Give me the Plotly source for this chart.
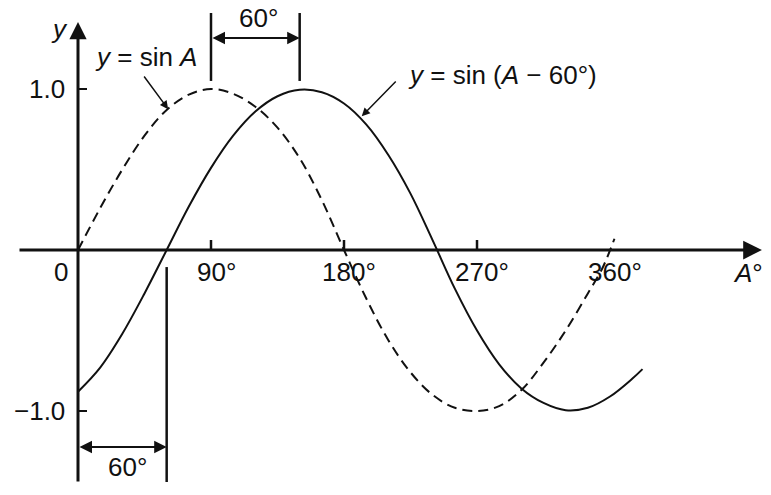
import plotly.graph_objects as go

# ---------------- data ----------------
angle_solid = [0, 15, 30, 45, 60, 75, 90, 105, 120, 135, 150, 165, 180, 195, 210,
               225, 240, 255, 270, 285, 300, 315, 330, 345, 360, 375, 382]
y_shifted = [-0.88, -0.73, -0.52, -0.27, 0.0, 0.27, 0.51, 0.71, 0.86, 0.955, 0.995, 0.98,
             0.91, 0.78, 0.59, 0.35, 0.06, -0.24, -0.50, -0.71, -0.86, -0.95, -0.995,
             -0.98, -0.91, -0.80, -0.74]

angle_dashed = [0, 15, 30, 45, 60, 75, 90, 105, 120, 135, 150, 165, 180, 195, 210,
                225, 240, 255, 270, 285, 300, 315, 330, 345, 355, 363]
y_sin = [0.0, 0.26, 0.50, 0.71, 0.87, 0.965, 1.0, 0.97, 0.89, 0.76, 0.57, 0.31, 0.0,
         -0.30, -0.56, -0.76, -0.90, -0.98, -1.0, -0.97, -0.87, -0.70, -0.50, -0.27,
         -0.11, 0.07]

x_tick_vals = [90, 180, 270, 360]
x_tick_text = ["90°", "180°", "270°", "360°"]
x_tick_marks = [90, 180, 270]
y_tick_vals = [1.0, -1.0]
y_tick_text = ["1.0", "−1.0"]

phase_shift = 60          # degrees
peak_sin = 90
peak_shifted = 150

# ---------------- layout constants ----------------
X_RANGE = [-52.78, 468.94]
Y_RANGE = [-1.5217, 1.5528]
X_AXIS_EXT = [-40.6, 462.8]
Y_AXIS_EXT = [-1.447, 1.416]
FONT = "Liberation Sans, Arial, Helvetica, sans-serif"
FS = 26
INK = "#111111"

fig = go.Figure()

fig.add_trace(go.Scatter(x=angle_dashed, y=y_sin, mode="lines",
                         line=dict(color=INK, width=2, dash="10px,6px", shape="spline"),
                         hoverinfo="skip", showlegend=False))
fig.add_trace(go.Scatter(x=angle_solid, y=y_shifted, mode="lines",
                         line=dict(color=INK, width=2, shape="spline"),
                         hoverinfo="skip", showlegend=False))

ann = []
shapes = []

# axes with arrowheads
ann.append(dict(x=X_AXIS_EXT[1], y=0, ax=X_AXIS_EXT[0], ay=0, axref="x", ayref="y",
                xref="x", yref="y", text="", showarrow=True, arrowhead=2,
                arrowsize=1.25, arrowwidth=3, arrowcolor=INK, standoff=0))
ann.append(dict(x=0, y=Y_AXIS_EXT[1], ax=0, ay=Y_AXIS_EXT[0], axref="x", ayref="y",
                xref="x", yref="y", text="", showarrow=True, arrowhead=2,
                arrowsize=1.15, arrowwidth=3, arrowcolor=INK, standoff=0))

# x tick marks and labels
for v in x_tick_marks:
    shapes.append(dict(type="line", x0=v, x1=v, y0=0, y1=0.062, xref="x", yref="y",
                       line=dict(color=INK, width=2.5)))
for v, t in zip(x_tick_vals, x_tick_text):
    ann.append(dict(x=v, y=-0.137, text=t, showarrow=False, xref="x", yref="y",
                    xanchor="center", yanchor="middle", xshift=5,
                    font=dict(family=FONT, size=FS, color=INK)))
ann.append(dict(x=-11.5, y=-0.137, text="0", showarrow=False, xref="x", yref="y",
                xanchor="center", yanchor="middle",
                font=dict(family=FONT, size=FS, color=INK)))

# y tick marks and labels
for v, t in zip(y_tick_vals, y_tick_text):
    shapes.append(dict(type="line", x0=0, x1=6.1, y0=v, y1=v, xref="x", yref="y",
                       line=dict(color=INK, width=2)))
    ann.append(dict(x=-7.4, y=v, text=t, showarrow=False, xref="x", yref="y",
                    xanchor="right", yanchor="middle",
                    font=dict(family=FONT, size=FS, color=INK)))

# axis names
ann.append(dict(x=-12.5, y=1.37, text="<i>y</i>", showarrow=False, xref="x", yref="y",
                xanchor="center", yanchor="middle",
                font=dict(family=FONT, size=FS, color=INK)))
ann.append(dict(x=453.5, y=-0.143, text="<i>A</i>°", showarrow=False, xref="x", yref="y",
                xanchor="center", yanchor="middle",
                font=dict(family=FONT, size=FS, color=INK)))

# top bracket: 60° between the two peaks
for v in [peak_sin, peak_shifted]:
    shapes.append(dict(type="line", x0=v, x1=v, y0=1.05, y1=1.472, xref="x", yref="y",
                       line=dict(color=INK, width=2.5)))
ann.append(dict(x=peak_shifted, y=1.317, ax=peak_sin, ay=1.317, axref="x", ayref="y",
                xref="x", yref="y", text="", showarrow=True, arrowhead=2,
                startarrowhead=2, arrowside="end+start", arrowsize=1.25,
                startarrowsize=1.25, arrowwidth=2, arrowcolor=INK,
                standoff=0, startstandoff=0))
ann.append(dict(x=(peak_sin + peak_shifted) / 2, y=1.441, text="60°", showarrow=False,
                xref="x", yref="y", xanchor="center", yanchor="middle", xshift=3,
                font=dict(family=FONT, size=FS, color=INK)))

# bottom bracket: 60° phase shift
shapes.append(dict(type="line", x0=phase_shift, x1=phase_shift, y0=-0.106, y1=-1.441,
                   xref="x", yref="y", line=dict(color=INK, width=2.5)))
ann.append(dict(x=phase_shift, y=-1.224, ax=0, ay=-1.224, axref="x", ayref="y",
                xref="x", yref="y", text="", showarrow=True, arrowhead=2,
                startarrowhead=2, arrowside="end+start", arrowsize=1.25,
                startarrowsize=1.25, arrowwidth=2, arrowcolor=INK,
                standoff=0, startstandoff=0))
ann.append(dict(x=phase_shift / 2, y=-1.348, text="60°", showarrow=False,
                xref="x", yref="y", xanchor="center", yanchor="middle", xshift=5,
                font=dict(family=FONT, size=FS, color=INK)))

# curve labels with pointers
ann.append(dict(x=46, y=1.2, text="<i>y</i> = sin <i>A</i>", showarrow=False,
                xref="x", yref="y", xanchor="center", yanchor="middle",
                font=dict(family=FONT, size=FS, color=INK)))
ann.append(dict(x=61, y=0.875, ax=44, ay=1.087, axref="x", ayref="y", xref="x", yref="y",
                text="", showarrow=True, arrowhead=2, arrowsize=1.1, arrowwidth=1.5,
                arrowcolor=INK, standoff=0))
ann.append(dict(x=287, y=1.09, text="<i>y</i> = sin (<i>A</i> − 60°)", showarrow=False,
                xref="x", yref="y", xanchor="center", yanchor="middle",
                font=dict(family=FONT, size=FS, color=INK)))
ann.append(dict(x=192, y=0.83, ax=216, ay=1.056, axref="x", ayref="y", xref="x", yref="y",
                text="", showarrow=True, arrowhead=2, arrowsize=1.1, arrowwidth=1.5,
                arrowcolor=INK, standoff=0))

fig.update_layout(
    width=771, height=495, autosize=False,
    margin=dict(l=0, r=0, t=0, b=0, pad=0),
    paper_bgcolor="white", plot_bgcolor="white",
    xaxis=dict(range=X_RANGE, visible=False, fixedrange=True),
    yaxis=dict(range=Y_RANGE, visible=False, fixedrange=True),
    annotations=ann, shapes=shapes, showlegend=False,
)

fig.write_html("out.html", config={"displayModeBar": False, "staticPlot": True},
               post_script="document.body.style.margin='0';document.body.style.overflow='hidden';")
